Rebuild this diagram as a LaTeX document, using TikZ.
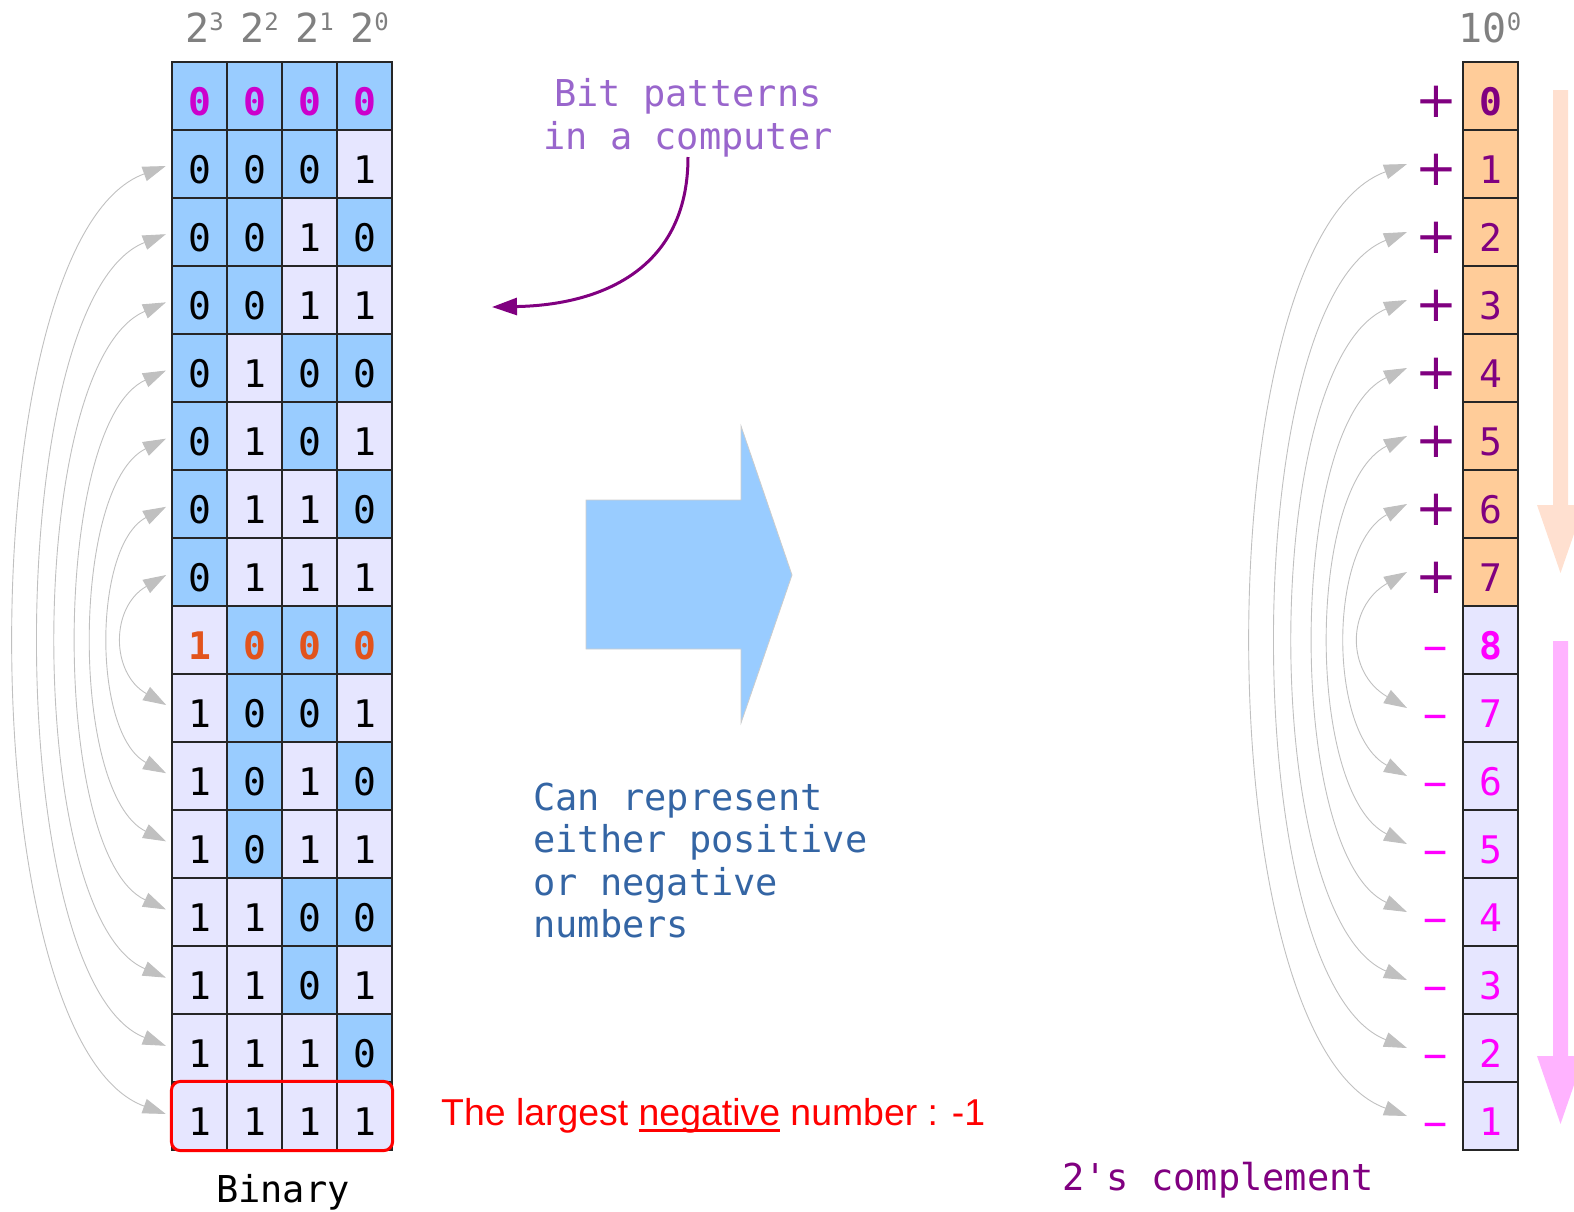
\documentclass[tikz,border=0pt]{standalone}
\usepackage{fontspec}
\setmainfont{DejaVu Sans}
\setmonofont{DejaVu Sans Mono}
\newfontfamily\arialfont{Liberation Sans}
\usetikzlibrary{arrows.meta, calc}

\newsavebox{\underbox}
\newcommand{\thickunder}[1]{\sbox{\underbox}{#1}\rlap{\rule[-6.5pt]{\wd\underbox}{2.5pt}}\usebox{\underbox}}

\definecolor{cellzero}{HTML}{99CCFF}
\definecolor{cellone}{HTML}{E6E6FF}
\definecolor{cellpos}{HTML}{FFCC99}
\definecolor{darkpurple}{HTML}{800080}
\definecolor{brightmag}{HTML}{FF00FF}
\definecolor{topmag}{HTML}{CC00CC}
\definecolor{signorange}{HTML}{E2531C}
\definecolor{notepurple}{HTML}{9966CC}
\definecolor{noteblue}{HTML}{3465A4}
\definecolor{arcgray}{HTML}{C0C0C0}
\definecolor{uppeach}{HTML}{FFE0D0}
\definecolor{downpink}{HTML}{FFB3FF}

\tikzset{
  cell/.style={draw=black!85, line width=1.2pt, minimum width=55pt, minimum height=68pt,
    inner sep=0pt, text height=38pt, text depth=0pt},
  explabel/.style={anchor=base, inner sep=0pt, text=gray, font=\ttfamily\fontsize{40}{40}\selectfont},
  signtxt/.style={anchor=base, inner sep=0pt},
  notetext/.style={inner sep=0pt, font=\ttfamily\fontsize{37}{42.5}\selectfont},
  bitarc/.style={draw=arcgray, line width=0.9pt,
    {Triangle[length=23pt,width=15pt]}-{Triangle[length=23pt,width=15pt]}},
  callout/.style={draw=darkpurple, line width=3pt, -{Triangle[length=25pt,width=17pt]}},
  largestbox/.style={draw=red, line width=3pt, rounded corners=9pt},
  bigarrow/.style={fill=cellzero, draw=black!20, line width=0.8pt}
}

\begin{document}
\begin{tikzpicture}[x=1pt,y=-1pt]
    \useasboundingbox (0,0) rectangle (1574,1211);

    \foreach \c/\p in {1/3,2/2,3/1,4/0}
        \node[explabel] (e-\c) at (149.5+55*\c,42) {2\raisebox{11.5pt}{\fontsize{24}{24}\selectfont\p}};
    \node[explabel] (e-dec) at (1490,42) {10\raisebox{11.5pt}{\fontsize{24}{24}\selectfont 0}};

    \foreach \r in {0,...,15}{
        \ifnum\r=0 \def\digcol{topmag}\def\digweight{\bfseries}
        \else\ifnum\r=8 \def\digcol{signorange}\def\digweight{\bfseries}
        \else \def\digcol{black}\def\digweight{\mdseries}\fi\fi
        \foreach \c in {1,...,4}{
            \pgfmathtruncatemacro{\bit}{mod(floor(\r/2^(4-\c)),2)}
            \ifnum\bit=0 \def\cellfill{cellzero}\else\def\cellfill{cellone}\fi
            \node[cell, fill=\cellfill, text=\digcol, font=\ttfamily\digweight\fontsize{38}{38}\selectfont]
                (b-\r-\c) at (144.5+55*\c, 96+68*\r) {\bit};
        }
    }

    \foreach \r in {0,...,15}{
        \pgfmathtruncatemacro{\val}{\r<8 ? \r : 16-\r}
        \ifnum\r=0 \def\digweight{\bfseries}\else\ifnum\r=8 \def\digweight{\bfseries}\else\def\digweight{\mdseries}\fi\fi
        \ifnum\r<8
            \node[cell, fill=cellpos, text=darkpurple, font=\ttfamily\digweight\fontsize{38}{38}\selectfont]
                (d-\r) at (1490.5, 96+68*\r) {\val};
            \node[signtxt, text=darkpurple, font=\fontsize{50}{50}\selectfont] (s-\r) at (1436, 117+68*\r) {+};
        \else
            \node[cell, fill=cellone, text=brightmag, font=\ttfamily\digweight\fontsize{38}{38}\selectfont]
                (d-\r) at (1490.5, 96+68*\r) {\val};
            \node[signtxt, text=brightmag, font=\ttfamily\fontsize{40}{40}\selectfont] (s-\r) at (1436, 117+68*\r) {−};
        \fi
        \coordinate (t-\r) at (1407, 96+68*\r);
    }

    \foreach \k/\dx/\dy in {1/204/74, 2/171/67, 3/148/63, 4/121/56, 5/101/50, 6/79/42, 7/61/35}{
        \pgfmathtruncatemacro{\m}{16-\k}
        \draw[bitarc, shorten <=6pt, shorten >=6pt] (b-\k-1.west) .. controls +(-\dx,\dy) and +(-\dx,-\dy) .. (b-\m-1.west);
        \draw[bitarc] (t-\k) .. controls +(-\dx,\dy) and +(-\dx,-\dy) .. (t-\m);
    }

    \draw[largestbox] (b-15-1.north west) rectangle (b-15-4.south east);

    \node[notetext, text=notepurple, anchor=south, align=center] (bits) at (688,157) {Bit patterns\\in a computer};
    \coordinate (bits-tip) at (492,307);
    \draw[callout] (bits.south) .. controls +(0,113) and +(108,-2) .. (bits-tip);

    \filldraw[bigarrow] (586,500) -- (741,500) -- (741,426) -- (792,575) -- (741,723) -- (741,649) -- (586,649) -- cycle;

    \node[notetext, text=noteblue, anchor=base west, align=left] (canrep) at (533,937.5)
        {Can represent\\either positive\\or negative\\numbers};

    \node[anchor=base west, inner sep=0pt, text=red, font=\arialfont\fontsize{37.4}{37.4}\selectfont] (largest) at (441,1125)
        {The largest \thickunder{negative} number : -1};

    \node[notetext, anchor=base] (binary) at (283,1202) {Binary};
    \node[notetext, text=darkpurple, anchor=base west] (twos) at (1062,1190) {2's complement};

    \fill[uppeach] (1553,90) -- (1568,90) -- (1568,505) -- (1584,505) -- (1560.5,573) -- (1537,505) -- (1553,505) -- cycle;
    \fill[downpink] (1553,641) -- (1568,641) -- (1568,1056) -- (1584,1056) -- (1560.5,1124) -- (1537,1056) -- (1553,1056) -- cycle;
\end{tikzpicture}
\end{document}
